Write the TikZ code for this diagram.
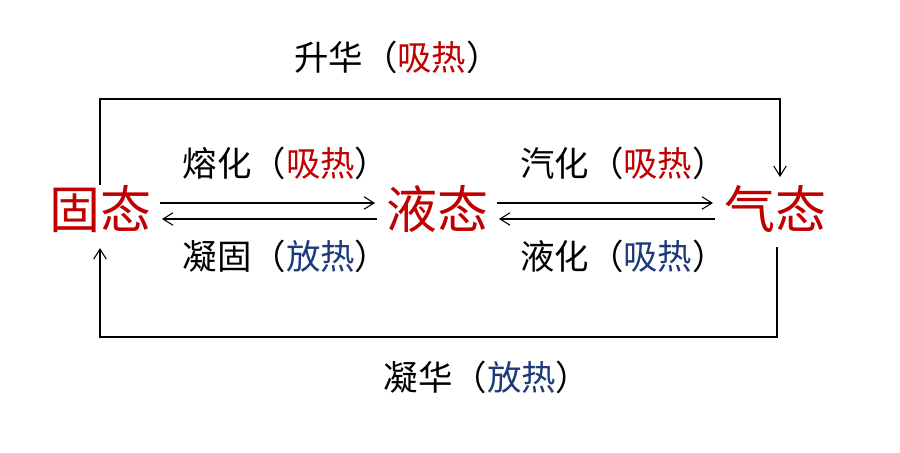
\documentclass[tikz,border=0pt]{standalone}
\usepackage{fontspec}
\setmainfont{Noto Sans CJK SC}
\usetikzlibrary{positioning, arrows.meta}
\definecolor{hotred}{HTML}{C00000}
\definecolor{coldblue}{HTML}{1F3A7A}

\begin{document}
\begin{tikzpicture}[>={Straight Barb[length=2mm, width=2.5mm]}, shorten >=1pt, line width=0.6pt, auto,
    phase/.style={text=hotred, font=\fontsize{29}{29}\selectfont, inner xsep=5pt, inner ysep=5.8pt},
    lbl/.style={font=\fontsize{19.6}{19.6}\selectfont}]
        \useasboundingbox (0,0) rectangle (18,9.06);
        % Define the nodes
        \node[phase] (gu) at (2.0,4.88)  {固态};
        \node[phase] (ye) at (8.74,4.88) {液态};
        \node[phase] (qi) at (15.5,4.88) {气态};
        \coordinate (top) at (7.95,7.08);
        \coordinate (bot) at (9.74,2.32);

        % Define the transitions
        \draw[->] ([yshift=1.2mm]gu.east) -- node[lbl, above=3.4mm, xshift=3.5mm] {熔化（\textcolor{hotred}{吸热}）} ([yshift=1.2mm]ye.west);
        \draw[->] ([yshift=-2mm]ye.west) -- node[lbl, below=3mm, xshift=3.5mm] {凝固（\textcolor{coldblue}{放热}）} ([yshift=-2mm]gu.east);
        \draw[->] ([yshift=1.2mm]ye.east) -- node[lbl, above=3.4mm, xshift=3.5mm] {汽化（\textcolor{hotred}{吸热}）} ([yshift=1.2mm]qi.west);
        \draw[->] ([yshift=-2mm]qi.west) -- node[lbl, below=3mm, xshift=3.5mm] {液化（\textcolor{coldblue}{吸热}）} ([yshift=-2mm]ye.east);
        \draw[->] ([yshift=-2mm]gu.north) -- (gu.north |- top) -| ([xshift=1mm, yshift=-0.8mm]qi.north);
        \draw[->] ([xshift=0.4mm, yshift=-0.8mm]qi.south) -- ([xshift=0.4mm]qi.south |- bot) -| ([yshift=-0.6mm]gu.south);
        \node[lbl, above=3.8mm of top] (sh) {升华（\textcolor{hotred}{吸热}）};
        \node[lbl, below=3.5mm of bot] (nh) {凝华（\textcolor{coldblue}{放热}）};
    \end{tikzpicture}
\end{document}
